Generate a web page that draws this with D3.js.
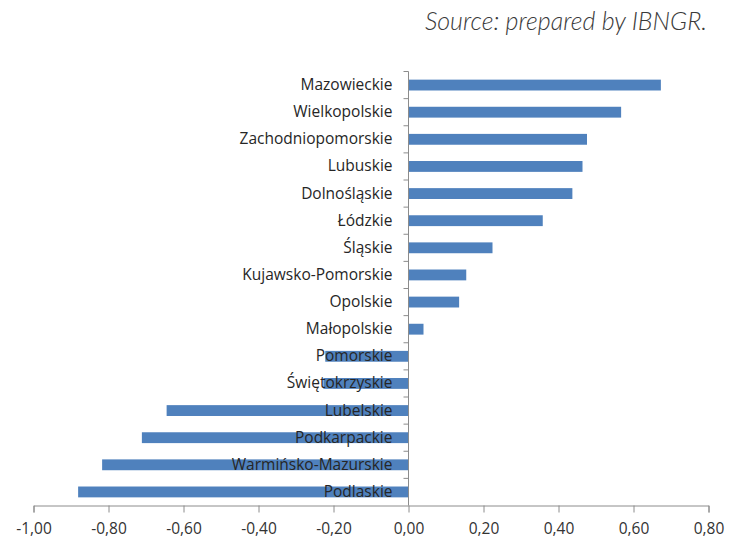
<!DOCTYPE html>
<html>
<head>
<meta charset="utf-8">
<script src="https://cdn.jsdelivr.net/npm/d3@7"></script>
<style>
  html, body { margin: 0; padding: 0; background: #fff; }
  svg { display: block; }
</style>
</head>
<body>
<svg id="chart" width="739" height="539"></svg>
<script>
// Regional index values by voivodeship
const regions = [
  "Mazowieckie", "Wielkopolskie", "Zachodniopomorskie", "Lubuskie", "Dolnośląskie",
  "Łódzkie", "Śląskie", "Kujawsko-Pomorskie", "Opolskie", "Małopolskie",
  "Pomorskie", "Świętokrzyskie", "Lubelskie", "Podkarpackie", "Warmińsko-Mazurskie", "Podlaskie"
];
const values = [
  0.673, 0.567, 0.476, 0.464, 0.437,
  0.358, 0.224, 0.154, 0.135, 0.040,
  -0.222, -0.227, -0.645, -0.711, -0.817, -0.881
];
const xTicks = [-1.0, -0.8, -0.6, -0.4, -0.2, 0.0, 0.2, 0.4, 0.6, 0.8];
const sourceNote = "Source: prepared by IBNGR.";

const svg = d3.select("#chart");
const labelFont = "'Open Sans', 'Noto Sans', sans-serif";

const x = d3.scaleLinear().domain([-1.0, 0.8]).range([33.5, 708.5]);
const y = d3.scaleBand().domain(regions).range([71.5, 505.5]).paddingInner(0.6).paddingOuter(0.3);
const band = d3.scaleBand().domain(regions).range([71.5, 505.5]);

// Source note
svg.append("text")
  .attr("x", 707).attr("y", 30)
  .attr("text-anchor", "end")
  .attr("font-family", "Lato, sans-serif")
  .attr("font-style", "italic")
  .attr("font-weight", 300)
  .attr("font-size", 25)
  .attr("fill", "#3a3a3a")
  .text(sourceNote);

// Bars
svg.append("g").selectAll("rect")
  .data(regions)
  .join("rect")
  .attr("x", (d, i) => x(Math.min(0, values[i])))
  .attr("y", d => y(d))
  .attr("width", (d, i) => Math.abs(x(values[i]) - x(0)))
  .attr("height", y.bandwidth())
  .attr("fill", "#4F81BD");

// Horizontal axis
const xAxis = d3.axisBottom(x)
  .tickValues(xTicks)
  .tickSize(7)
  .tickFormat(d => d3.format(".2f")(d).replace("−", "-").replace(".", ","));
const gx = svg.append("g")
  .attr("transform", "translate(0,505.5)")
  .call(xAxis);
gx.select(".domain").attr("stroke", "#8c8c8c");
gx.selectAll(".tick line").attr("stroke", "#8c8c8c");
gx.selectAll(".tick text")
  .attr("y", 17)
  .attr("font-family", labelFont)
  .attr("font-size", 15.5)
  .attr("fill", "#333333");

// Vertical axis at zero with ticks at category boundaries
const gy = svg.append("g");
gy.append("line")
  .attr("x1", x(0)).attr("x2", x(0))
  .attr("y1", band.range()[0]).attr("y2", band.range()[1])
  .attr("stroke", "#8c8c8c");
gy.selectAll("line.bt")
  .data(regions)
  .join("line")
  .attr("class", "bt")
  .attr("x1", x(0) - 5).attr("x2", x(0))
  .attr("y1", d => band(d)).attr("y2", d => band(d))
  .attr("stroke", "#8c8c8c");

// Category labels, right-aligned next to the axis
svg.append("g").selectAll("text")
  .data(regions)
  .join("text")
  .attr("x", x(0) - 16)
  .attr("y", d => band(d) + band.bandwidth() / 2)
  .attr("dy", "0.32em")
  .attr("text-anchor", "end")
  .attr("font-family", labelFont)
  .attr("font-size", 15.5)
  .attr("fill", "#262626")
  .text(d => d);
</script>
</body>
</html>
